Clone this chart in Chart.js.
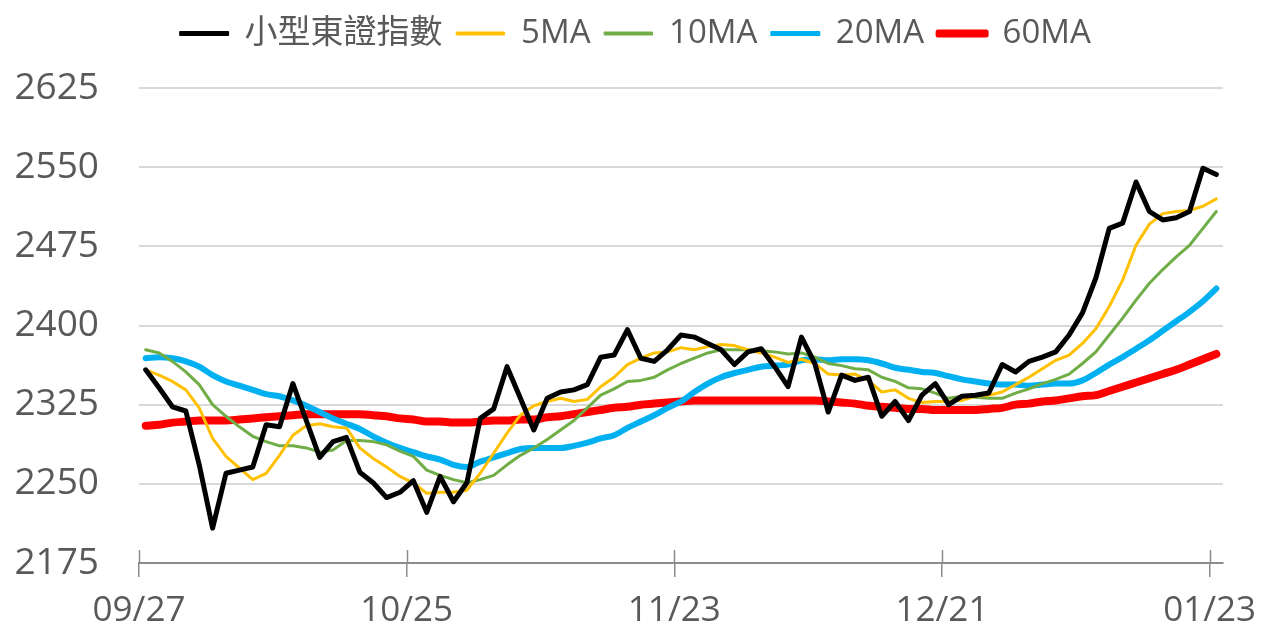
<!DOCTYPE html>
<html><head><meta charset="utf-8">
<script src="https://cdn.jsdelivr.net/npm/chart.js@4/dist/chart.umd.min.js"></script>
<style>html,body{margin:0;padding:0;background:#fff;}#wrap{width:1271px;height:635px;}</style>
</head><body><div id="wrap"><canvas id="c" width="1271" height="635"></canvas></div>
<script>
const tickLabels = ['09/27','10/25','11/23','12/21','01/23'];
const tickEvery = 20;
const seriesNames = ['小型東證指數','5MA','10MA','20MA','60MA'];
const indexValues = [
2358,2341,2323,2319,2268,2208,2260,2263,2266,2306,
2304,2345,2310,2275,2290,2294,2261,2251,2237,2242,
2253,2223,2257,2233,2251,2312,2321,2361,2331,2301,
2331,2337,2339,2344,2370,2372,2396,2369,2366,2377,
2391,2389,2383,2377,2363,2375,2378,2361,2342,2389,
2364,2318,2353,2348,2351,2314,2328,2310,2334,2345,
2325,2333,2334,2336,2363,2356,2366,2370,2375,2391,
2412,2445,2492,2497,2536,2508,2500,2502,2508,2549,2543];
const ma5 = [
2358,2353,2347,2339,2322,2293,2276,2265,2254,2260,
2277,2296,2305,2307,2304,2303,2284,2274,2266,2257,
2251,2241,2242,2242,2244,2260,2279,2298,2315,2324,
2328,2331,2328,2330,2342,2351,2363,2369,2374,2375,
2379,2377,2380,2382,2381,2377,2374,2370,2365,2368,
2364,2354,2353,2354,2348,2337,2339,2331,2327,2328,
2328,2329,2333,2334,2337,2344,2351,2359,2367,2372,
2383,2397,2418,2443,2476,2496,2506,2508,2509,2513,2520];
const ma10 = [
2377,2374,2366,2356,2344,2325,2314,2304,2295,2290,
2286,2286,2284,2280,2282,2291,2291,2290,2287,2281,
2276,2263,2258,2254,2251,2254,2258,2268,2277,2284,
2292,2301,2310,2322,2334,2340,2347,2348,2351,2358,
2364,2369,2374,2377,2377,2377,2376,2375,2373,2374,
2370,2364,2362,2359,2358,2351,2347,2341,2340,2336,
2331,2333,2332,2331,2331,2336,2340,2345,2349,2354,
2364,2375,2391,2407,2424,2440,2453,2465,2476,2492,2508];
const ma20 = [
2369,2370,2369,2366,2361,2353,2347,2343,2339,2335,
2333,2329,2324,2318,2312,2307,2302,2295,2289,2284,
2280,2276,2273,2268,2266,2271,2275,2279,2283,2284,
2284,2284,2286,2289,2293,2296,2303,2309,2315,2322,
2328,2337,2345,2351,2355,2358,2361,2362,2363,2367,
2368,2367,2368,2368,2367,2364,2360,2358,2356,2355,
2352,2349,2347,2345,2344,2344,2343,2344,2345,2345,
2348,2355,2363,2370,2378,2386,2395,2404,2413,2423,2435];
const ma60 = [
2305,2306,2308,2309,2310,2310,2310,2311,2312,2313,
2314,2315,2316,2316,2316,2316,2316,2315,2314,2312,
2311,2309,2309,2308,2308,2309,2310,2310,2311,2311,
2313,2314,2316,2318,2320,2322,2323,2325,2326,2327,
2328,2329,2329,2329,2329,2329,2329,2329,2329,2329,
2329,2328,2327,2326,2324,2323,2322,2321,2321,2320,
2320,2320,2320,2321,2322,2325,2326,2328,2329,2331,
2333,2334,2338,2342,2346,2350,2354,2358,2363,2368,2373];
const yTicks = {min: 2175, max: 2625, step: 75};

const categories = indexValues.map((_, i) => i % tickEvery === 0 ? tickLabels[i / tickEvery] : '');
const colors = ['#000000','#FFC000','#70AD47','#00B0F0','#FF0000'];
const widths = [5, 3, 3, 6, 8];
const legendStroke = [2, 1, 1, 2, 5];
const seriesData = [indexValues, ma5, ma10, ma20, ma60];

Chart.defaults.font.family = "'Open Sans','Noto Sans CJK TC',sans-serif";
Chart.defaults.color = '#595959';

const legendHeightPlugin = {
  id: 'legendHeight',
  beforeLayout(chart) {
    const lg = chart.legend;
    if (lg && !lg._patched) {
      const fit = lg.fit;
      lg.fit = function () { fit.call(this); this.height = 85; };
      lg._patched = true;
    }
  }
};
const tickCrossPlugin = {
  id: 'tickCross',
  afterDraw(chart) {
    const xs = chart.scales.x, ctx = chart.ctx;
    const half = (xs.getPixelForValue(1) - xs.getPixelForValue(0)) / 2;
    ctx.save();
    ctx.strokeStyle = '#8c8c8c'; ctx.lineWidth = 1.5;
    categories.forEach((c, i) => {
      if (!c) return;
      const x = Math.round(xs.getPixelForValue(i) - half) + 0.5;
      ctx.beginPath(); ctx.moveTo(x, xs.top - 13); ctx.lineTo(x, xs.top); ctx.stroke();
    });
    ctx.restore();
  }
};

new Chart(document.getElementById('c'), {
  type: 'line',
  data: {
    labels: categories,
    datasets: seriesNames.map((n, k) => ({
      label: n,
      data: seriesData[k],
      borderColor: colors[k],
      backgroundColor: colors[k],
      borderWidth: widths[k],
      pointRadius: 0,
      borderJoinStyle: 'round',
      borderCapStyle: 'round',
      cubicInterpolationMode: k >= 3 ? 'monotone' : 'default',
      tension: 0
    }))
  },
  options: {
    responsive: false,
    animation: false,
    devicePixelRatio: 1,
    layout: {padding: {top: 3, right: 0, left: 0, bottom: 0}},
    plugins: {
      legend: {
        position: 'top',
        labels: {
          boxWidth: 48, boxHeight: 3, padding: 14,
          font: {size: 33},
          color: '#595959',
          generateLabels(chart) {
            const items = Chart.defaults.plugins.legend.labels.generateLabels(chart);
            items.forEach((it) => { it.lineWidth = legendStroke[it.datasetIndex]; it.fillStyle = it.strokeStyle; it.lineCap = 'round'; it.lineJoin = 'round'; });
            return items;
          }
        }
      },
      tooltip: {enabled: false}
    },
    scales: {
      x: {
        type: 'category',
        offset: true,
        afterFit(s) { s.height = 72; s.paddingLeft = 0; s.paddingRight = 48; },
        border: {display: true, color: '#8c8c8c', width: 2},
        grid: {
          offset: true, drawOnChartArea: false, drawTicks: true, tickLength: 14, lineWidth: 1.5,
          color: (ctx) => (ctx.index % tickEvery === 0 && ctx.index < categories.length) ? '#8c8c8c' : 'rgba(0,0,0,0)'
        },
        ticks: {
          autoSkip: false, maxRotation: 0, minRotation: 0, padding: 13,
          labelOffset: -6.7,
          font: {size: 35}, color: '#595959',
          callback: (v, i) => categories[i]
        }
      },
      y: {
        min: yTicks.min, max: yTicks.max,
        afterFit(s) { s.width = 139; },
        border: {display: false},
        grid: {color: '#d9d9d9', lineWidth: 2, drawTicks: false},
        ticks: {stepSize: yTicks.step, padding: 40, font: {size: 37}, color: '#595959', callback: (v) => String(v)}
      }
    }
  },
  plugins: [legendHeightPlugin, tickCrossPlugin]
});
</script></body></html>
